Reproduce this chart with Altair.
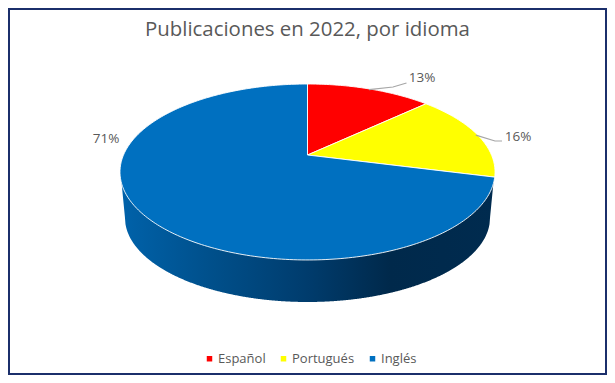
import math
import altair as alt
import pandas as pd

# Values
categories = ["Español", "Portugués", "Inglés"]
shares = [13, 16, 71]
colors = ["#FF0000", "#FFFF00", "#0070C0"]
label_x = [422, 518, 106]
label_y = [78, 137, 139]

FONT = "Open Sans"
GREY = "#595959"

# Perspective of the pie, in picture pixels
CX, CY = 307.5, 155.0      # apex of the slices
AX, CV, K = 184.0, 84.7, 0.193
BOT_CY, BOT_RX, BOT_RY = 218.0, 182.5, 84.0
TOP_CY = 172.0
LEFT, RIGHT = 120.5, 494.5


def rim(theta_deg):
    t = math.radians(theta_deg)
    den = 1 + K * math.cos(t)
    return CX + AX * math.sin(t) / den, CY - CV * math.cos(t) / den


# Slices
rows = []
mids = []
start = 0.0
for cat, share in zip(categories, shares):
    sweep = share * 3.6
    mids.append(start + sweep / 2)
    n = max(4, int(sweep))
    pts = [(CX, CY)] + [rim(start + sweep * i / n) for i in range(n + 1)] + [(CX, CY)]
    for i, (x, y) in enumerate(pts):
        rows.append({"idioma": cat, "i": i, "x": x, "y": y})
    start += sweep
slices = pd.DataFrame(rows)

# Side wall: straight flanks, then the lower rim
wall_rows = []
steps = 600
flank = CX - BOT_RX - LEFT
for i in range(steps + 1):
    x = LEFT + (RIGHT - LEFT) * i / steps
    dx = (x - CX) / BOT_RX
    if abs(dx) < 1:
        low = BOT_CY + BOT_RY * math.sqrt(1 - dx * dx)
    else:
        edge = min(x - LEFT, RIGHT - x)
        low = TOP_CY + (BOT_CY - TOP_CY) * edge / flank
    wall_rows.append({"x": x, "y": TOP_CY, "y2": low})
wall = pd.DataFrame(wall_rows)

xs = alt.Scale(domain=[8, 607], range=[0, 599], nice=False, zero=False)
ys = alt.Scale(domain=[8, 375], range=[0, 367], nice=False, zero=False)
X = alt.X("x:Q", scale=xs, axis=None)
Y = alt.Y("y:Q", scale=ys, axis=None)

wall_layer = alt.Chart(wall).mark_area(
    color=alt.Gradient(
        gradient="linear", x1=0, x2=1, y1=0, y2=0,
        stops=[
            alt.GradientStop(color="#0062AA", offset=0),
            alt.GradientStop(color="#004F8A", offset=0.25),
            alt.GradientStop(color="#003C6D", offset=0.5),
            alt.GradientStop(color="#00294B", offset=0.72),
            alt.GradientStop(color="#002B4F", offset=1),
        ],
    ),
    interpolate="linear",
).encode(x=X, y=Y, y2="y2:Q")

slice_layer = alt.Chart(slices).mark_line(
    stroke="#FFFFFF", strokeWidth=1, strokeOpacity=0.9, interpolate="linear"
).encode(
    x=X,
    y=Y,
    order=alt.Order("i:Q"),
    fill=alt.Fill(
        "idioma:N",
        scale=alt.Scale(domain=categories, range=colors),
        sort=categories,
        legend=alt.Legend(
            title=None, orient="none", legendX=195, legendY=344, direction="horizontal",
            columns=3, symbolType="square", symbolSize=30, symbolStrokeWidth=0,
            labelFont=FONT, labelFontSize=13, labelColor=GREY, columnPadding=11,
            symbolOffset=0, labelOffset=2,
        ),
    ),
)

# Leader lines for the first two labels
lead_rows = []
elbows = [(393, 87, 406.5, 83), (495, 141, 502, 141)]
for k, (ex, ey, fx, fy) in enumerate(elbows):
    sx, sy = rim(mids[k])
    sx, sy = CX + (sx - CX) * 0.99, CY + (sy - CY) * 0.99
    for i, (x, y) in enumerate([(sx, sy), (ex, ey), (fx, fy)]):
        lead_rows.append({"k": k, "i": i, "x": x, "y": y})
leads = alt.Chart(pd.DataFrame(lead_rows)).mark_line(
    color="#A6A6A6", strokeWidth=1.2
).encode(x=X, y=Y, detail="k:N", order=alt.Order("i:Q"))

labels_df = pd.DataFrame({
    "x": label_x,
    "y": label_y,
    "t": [f"{s}%" for s in shares],
})
labels = alt.Chart(labels_df).mark_text(
    font=FONT, fontSize=13.5, color=GREY, align="center", baseline="middle"
).encode(x=X, y=Y, text="t:N")

chart = (
    alt.layer(wall_layer, slice_layer, leads, labels)
    .properties(
        width=599,
        height=367,
        padding=0,
        autosize=alt.AutoSizeParams(type="none"),
        title=alt.TitleParams(
            "Publicaciones en 2022, por idioma",
            font=FONT, fontSize=20.4, fontWeight="normal", color=GREY,
            anchor="middle", frame="group", offset=-32, dx=0,
        ),
        background="#FFFFFF",
    )
    .configure_view(stroke="#1B2F6B", strokeWidth=4)
)

chart.save("out.html", embed_options={"renderer": "svg", "actions": False})
